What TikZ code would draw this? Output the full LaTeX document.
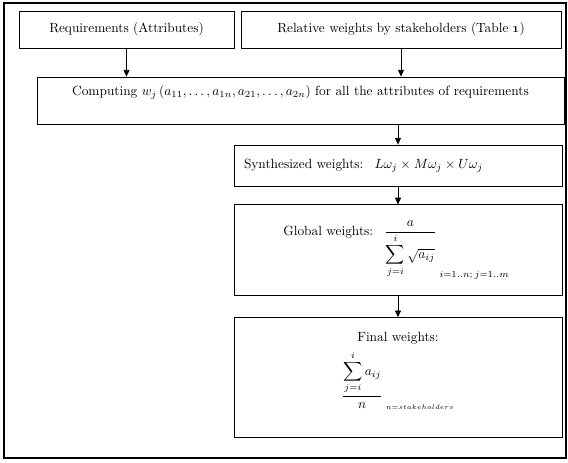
\documentclass[tikz,border=0pt]{standalone}
\usepackage{amsmath}
\usetikzlibrary{arrows.meta, positioning}

\begin{document}
\begin{tikzpicture}[
    x=0.75pt, y=-0.75pt, >={Triangle[length=5pt, width=4.5pt]},
    box/.style={draw, line width=0.6pt, inner sep=0pt, text centered}
  ]
  \useasboundingbox (0,0) rectangle (568,463);
  \draw[line width=1.5pt] (4,3) rectangle (566,458);

  % top row
  \node[box, minimum width=161.25pt, minimum height=27.75pt] (req) at (126.5,29.5)
    {Requirements (Attributes)};
  \node[box, minimum width=240pt, minimum height=27.75pt] (relw) at (401,29.5)
    {Relative weights by stakeholders (Table \oldstylenums{1})};
  \node[box, minimum width=395.25pt, minimum height=35.25pt,
        text height=8pt, text depth=16pt] (comp) at (300.5,100.5)
    {Computing $w_j\,(a_{11},\ldots,a_{1n},a_{21},\ldots,a_{2n})$ for all the attributes of requirements};

  % weight chain
  \node[box, minimum height=30.75pt, text width=231pt, inner xsep=7.5pt,
        align=left] (synth) at (398,165.5)
    {Synthesized weights: \ $L\omega_j\times M\omega_j\times U\omega_j$};
  \node[box, below=13.5pt of synth, minimum height=68.25pt, text width=172pt,
        inner xsep=37pt, align=left] (glob)
    {Global weights: \ $\displaystyle\frac{a}{\displaystyle\sum_{j=i}^{i}\sqrt{a_{ij}}}_{\;i=1..n;\,j=1..m}$};
  \node[box, below=15.75pt of glob, minimum height=90pt, text width=231pt,
        inner xsep=7.5pt, align=center, text height=8pt, text depth=62pt] (final)
    {Final weights:\\[4pt]
     $\displaystyle\frac{\displaystyle\sum_{j=i}^{i} a_{ij}}{n}_{\;\scriptscriptstyle n=stakeholders}$};

  \draw[->, line width=0.6pt] (req) -- (req.south |- comp.north);
  \draw[->, line width=0.6pt] (relw) -- (relw.south |- comp.north);
  \draw[->, line width=0.6pt] (synth.north |- comp.south) -- (synth);
  \draw[->, line width=0.6pt] (synth) -- (glob);
  \draw[->, line width=0.6pt] (glob) -- (final);
\end{tikzpicture}
\end{document}
